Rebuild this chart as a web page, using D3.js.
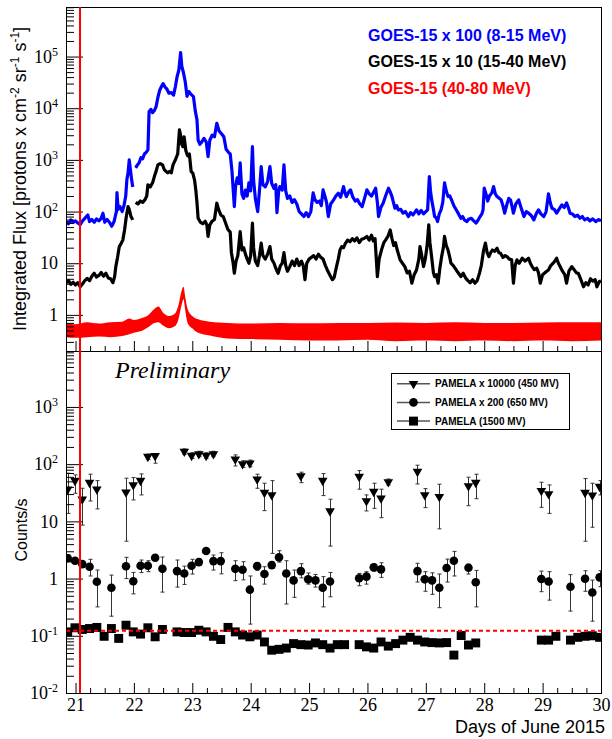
<!DOCTYPE html>
<html>
<head>
<meta charset="utf-8">
<script src="https://cdn.jsdelivr.net/npm/d3@7"></script>
<style>
  body { margin: 0; background: #fff; }
  svg { display: block; }
</style>
</head>
<body>
<div id="chart"></div>
<script>
// GOES-15 integrated flux as plotted (already scaled as in legend): [day of June, flux]
var goesBlue = [
  [20.84,64],[20.88,58],[20.92,69],[20.96,62],[21.00,66],[21.04,60],[21.08,56],[21.12,66],[21.16,74],[21.21,86],
  [21.24,64],[21.28,70],[21.32,62],[21.36,72],[21.40,66],[21.44,74],[21.47,93],[21.50,62],[21.54,70],[21.58,62],
  [21.62,52],[21.66,64],[21.70,100],[21.71,233],[21.73,110],[21.76,125],[21.80,100],[21.83,130],[21.86,200],[21.88,420],
  [21.90,560],[21.92,1000],[21.94,650],[21.96,420],[21.98,300],[22.00,null],[22.03,700],[22.06,800],[22.09,880],[22.12,1100],
  [22.15,1050],[22.18,1300],[22.21,1400],[22.24,1560],[22.26,8600],[22.29,9500],[22.32,8200],[22.35,9000],[22.38,10700],[22.41,16000],
  [22.44,22000],[22.47,26000],[22.50,30000],[22.53,26000],[22.56,24000],[22.60,19500],[22.64,20000],[22.68,18000],[22.71,26000],[22.74,41000],
  [22.77,55000],[22.80,119000],[22.82,65000],[22.85,48000],[22.88,32000],[22.91,17000],[22.94,21000],[22.97,19000],[23.02,16800],[23.05,9000],
  [23.08,6000],[23.10,2400],[23.13,2000],[23.16,2200],[23.20,2600],[23.24,2200],[23.27,1160],[23.30,2400],[23.34,3000],[23.38,2800],
  [23.42,5100],[23.46,3600],[23.50,3200],[23.54,2800],[23.58,1600],[23.62,1400],[23.65,1300],[23.68,600],[23.72,125],[23.74,300],
  [23.77,450],[23.80,350],[23.82,875],[23.85,220],[23.88,180],[23.91,260],[23.94,200],[23.97,360],[24.00,250],[24.03,1800],
  [24.05,400],[24.08,180],[24.12,100],[24.15,250],[24.18,741],[24.21,330],[24.25,300],[24.29,380],[24.33,741],[24.36,350],
  [24.40,280],[24.43,330],[24.45,95],[24.48,250],[24.50,304],[24.54,260],[24.57,800],[24.60,250],[24.63,180],[24.67,200],
  [24.71,150],[24.75,170],[24.79,140],[24.83,100],[24.87,90],[24.91,80],[24.95,95],[24.99,80],[25.03,100],[25.07,230],
  [25.10,170],[25.14,150],[25.18,160],[25.21,130],[25.24,263],[25.27,200],[25.30,150],[25.33,80],[25.37,140],[25.42,168],
  [25.46,200],[25.50,227],[25.54,190],[25.59,304],[25.62,220],[25.64,195],[25.68,240],[25.71,263],[25.75,190],[25.79,160],
  [25.83,170],[25.87,140],[25.91,125],[25.95,180],[25.99,263],[26.03,220],[26.07,200],[26.10,230],[26.14,283],[26.17,150],
  [26.19,80],[26.23,120],[26.27,147],[26.31,200],[26.36,283],[26.39,240],[26.42,195],[26.47,116],[26.50,130],[26.53,108],
  [26.57,110],[26.61,93],[26.65,100],[26.70,80],[26.74,95],[26.78,86],[26.82,100],[26.84,108],[26.88,90],[26.92,105],
  [26.96,90],[27.00,100],[27.03,108],[27.06,475],[27.08,250],[27.10,168],[27.13,110],[27.15,80],[27.18,75],[27.20,64],
  [27.23,90],[27.26,108],[27.29,150],[27.32,359],[27.35,250],[27.38,195],[27.41,200],[27.44,168],[27.48,130],[27.52,108],
  [27.56,90],[27.60,74],[27.63,80],[27.66,69],[27.70,64],[27.74,72],[27.78,74],[27.82,66],[27.86,60],[27.90,70],
  [27.93,80],[27.96,90],[27.98,108],[28.00,283],[28.03,220],[28.06,160],[28.09,200],[28.13,230],[28.16,304],[28.19,220],
  [28.22,195],[28.26,180],[28.29,168],[28.32,130],[28.35,93],[28.39,140],[28.42,180],[28.45,168],[28.48,120],[28.50,93],
  [28.54,140],[28.59,168],[28.63,120],[28.68,80],[28.72,100],[28.76,93],[28.80,85],[28.85,69],[28.89,90],[28.93,108],
  [28.97,90],[29.02,80],[29.06,100],[29.10,220],[29.13,150],[29.16,116],[29.20,110],[29.24,93],[29.28,110],[29.33,135],
  [29.37,120],[29.41,147],[29.44,120],[29.47,93],[29.51,90],[29.55,80],[29.60,85],[29.64,74],[29.68,80],[29.72,69],
  [29.77,74],[29.81,66],[29.86,72],[29.91,64],[29.96,70],[30.00,66]
];
var goesBlack = [
  [20.84,4.2],[20.88,4.6],[20.92,3.9],[20.96,4.3],[21.00,3.8],[21.04,4.2],[21.08,3.5],[21.12,4.0],[21.16,4.6],[21.20,5.1],
  [21.24,4.6],[21.28,5.6],[21.32,6.4],[21.36,5.4],[21.40,5.8],[21.44,6.6],[21.48,5.6],[21.52,6.4],[21.56,5.2],[21.60,5.0],
  [21.64,4.2],[21.67,5.5],[21.69,8.6],[21.72,13],[21.75,21],[21.78,24],[21.81,28],[21.84,44],[21.87,80],[21.90,125],
  [21.92,110],[21.95,80],[21.98,69],[22.00,null],[22.03,150],[22.07,140],[22.11,160],[22.15,150],[22.19,170],[22.22,200],
  [22.24,330],[22.28,300],[22.32,360],[22.35,475],[22.38,600],[22.41,800],[22.45,850],[22.49,800],[22.52,650],[22.55,600],
  [22.58,560],[22.61,600],[22.64,560],[22.67,800],[22.71,1000],[22.75,1300],[22.78,3800],[22.80,3000],[22.82,2000],[22.84,1800],
  [22.86,2800],[22.89,1500],[22.92,1200],[22.95,1300],[22.98,600],[23.01,550],[23.04,400],[23.06,263],[23.08,150],[23.10,74],
  [23.14,62],[23.18,58],[23.22,65],[23.25,55],[23.27,33],[23.30,55],[23.34,65],[23.38,70],[23.42,145],[23.45,110],
  [23.49,85],[23.53,80],[23.57,60],[23.61,45],[23.65,40],[23.67,16],[23.70,10],[23.72,6.4],[23.75,11],[23.78,14],
  [23.82,41],[23.85,18],[23.88,20],[23.91,15],[23.94,12],[23.97,10],[24.00,14],[24.03,60],[24.05,20],[24.08,11],
  [24.12,9],[24.15,14],[24.18,24.5],[24.21,14],[24.25,12],[24.29,15],[24.33,21],[24.36,12],[24.40,10],[24.43,8],
  [24.47,6.4],[24.51,9],[24.54,10],[24.57,16],[24.60,9],[24.63,7],[24.67,8.6],[24.71,11],[24.75,9],[24.79,12],
  [24.83,9],[24.87,11],[24.90,9],[24.93,4.8],[24.96,10],[25.00,12],[25.04,13],[25.08,14],[25.12,12],[25.16,15],
  [25.20,13],[25.24,12],[25.28,9],[25.31,7.5],[25.34,6.4],[25.37,5.5],[25.40,4.8],[25.43,5.3],[25.47,8.6],[25.50,12],
  [25.53,18],[25.56,21],[25.59,20],[25.62,24],[25.66,28],[25.70,26],[25.74,30],[25.78,27],[25.82,31],[25.86,25],
  [25.90,29],[25.94,30],[25.99,33],[26.03,28],[26.07,35],[26.10,27],[26.13,30],[26.17,5.5],[26.20,12],[26.24,18],
  [26.28,25],[26.31,28],[26.35,33],[26.39,44],[26.42,30],[26.45,22],[26.48,25],[26.51,18],[26.56,11.6],[26.60,10],
  [26.64,8.6],[26.68,6.5],[26.72,7],[26.76,4.1],[26.80,6],[26.84,7.4],[26.88,12],[26.90,21],[26.93,14],[26.96,8.6],
  [26.99,12],[27.02,21],[27.05,55],[27.07,25],[27.10,13],[27.13,6.5],[27.15,5.5],[27.18,6],[27.21,4.1],[27.24,8],
  [27.27,13.4],[27.30,20],[27.32,33],[27.35,22],[27.38,18],[27.41,13],[27.43,10],[27.47,9],[27.52,7.4],[27.56,6.4],
  [27.60,5.5],[27.64,6.4],[27.68,5.2],[27.72,4.6],[27.76,4.2],[27.80,4.8],[27.84,4.1],[27.88,4.6],[27.92,6.5],[27.95,9],
  [27.99,18],[28.02,24.5],[28.05,16],[28.08,13.4],[28.11,16],[28.14,18],[28.18,17],[28.22,19.5],[28.25,16],[28.28,15.6],
  [28.32,13],[28.36,14],[28.39,13.4],[28.43,12],[28.47,11.6],[28.50,4.1],[28.53,9],[28.56,11.6],[28.60,10],[28.65,12.5],
  [28.70,11],[28.76,12.5],[28.79,10],[28.82,8.6],[28.86,7.5],[28.90,8],[28.93,6.5],[28.96,4.1],[29.00,6],[29.03,6.4],
  [29.07,7],[29.10,7.4],[29.14,9],[29.18,10],[29.21,11],[29.24,12.5],[29.27,10],[29.30,8.6],[29.34,7],[29.38,6],
  [29.41,4.1],[29.45,7],[29.50,8.6],[29.54,7.5],[29.58,6.5],[29.61,6.4],[29.65,5],[29.70,3.5],[29.74,4.2],[29.78,3.8],
  [29.82,5],[29.86,4.5],[29.90,4.8],[29.93,3.5],[29.97,4.4],[30.00,4.5]
];
// 40-80 MeV channel is a noisy band: [day, lower edge, upper edge]
var goesRed = [
  [20.84,0.37,0.68],[21.00,0.36,0.66],[21.20,0.37,0.72],[21.40,0.38,0.68],[21.60,0.37,0.72],[21.80,0.39,0.74],
  [21.92,0.42,0.85],[22.00,0.45,0.80],[22.15,0.50,0.88],[22.25,0.58,1.0],[22.35,0.70,1.3],[22.42,0.72,1.45],
  [22.50,0.62,1.1],[22.60,0.55,0.95],[22.70,0.60,1.05],[22.76,0.80,1.5],[22.82,1.6,3.0],[22.85,2.0,3.5],
  [22.88,1.2,2.2],[22.92,0.70,1.3],[23.00,0.55,0.95],[23.10,0.45,0.82],[23.30,0.40,0.74],[23.60,0.35,0.70],
  [24.00,0.34,0.68],[24.50,0.33,0.70],[25.00,0.32,0.69],[25.50,0.32,0.70],[26.00,0.33,0.70],[26.50,0.31,0.71],
  [27.00,0.32,0.70],[27.50,0.31,0.72],[28.00,0.32,0.70],[28.50,0.31,0.70],[29.00,0.32,0.71],[29.50,0.31,0.72],
  [30.00,0.32,0.72]
];

// PAMELA count rates, 3-hour bins counted from pamT0
var pamT0 = 20.866, pamBinWidth = 0.1248;

var triBin = [0,1,2,3,4,8,9,10,11,12,16,17,18,19,20,23,24,25,26,27,28,32,35,36,40,41,42,43,44,48,49,51,55,56,65,66,71,72,73];
var triVal = [36.5,51.5,24.4,47.5,36.5,32.3,43.3,51.5,135.6,139.5,166,141,151,141,151,122,101,104,54.5,31.8,29,62.3,51.5,15.1,60.6,22.7,33.1,25.4,48.9,74.1,29,27,41.6,47.5,34.4,30.2,31.8,28.6,40.5];
var triLo  = [13.8,31,8.6,22.7,16.5,4.5,23.7,29,120,104,148,126,135,126,135,93,88,90,37.9,15.4,2.76,47.5,28.2,3.7,36.5,15.2,16.9,11.6,43,45.1,17.4,7.4,18.8,24.9,17.6,13.8,4.5,7.9,29];
var triHi  = [69.5,64.9,37.9,66.7,51.5,56.8,58.2,67.5,150,152,185,158,168,158,168,145,115,118,66.7,46.4,51.5,72.3,68.4,24.4,77.1,29,46.4,36.5,55,95.9,37.3,44.6,59.1,66.7,48.3,43.3,55.9,46.4,51.5];

var circBin = [0,1,2,3,4,6,8,9,10,11,12,13,15,16,17,18,19,20,21,23,24,25,26,27,28,29,30,31,32,33,34,35,36,40,41,42,43,48,49,50,51,52,53,55,56,65,66,69,71,72,73];
var circVal = [2.26,2.05,1.79,1.61,0.88,0.69,1.64,0.90,1.68,1.68,2.31,1.48,1.35,1.23,1.68,1.94,3.03,2.02,2.02,1.48,1.43,0.64,1.65,1.20,1.72,2.35,1.23,0.93,1.35,0.97,0.93,0.69,0.89,1.01,1.08,1.57,1.45,1.35,0.97,0.93,0.69,1.53,2.05,1.55,0.86,0.98,0.89,0.72,0.99,0.57,1.05];
var circLo  = [2.0,1.8,1.6,1.11,0.32,0.22,1.0,0.54,1.28,1.32,2.05,0.58,0.71,0.79,1.20,1.7,2.75,1.41,1.21,0.92,0.95,0.16,1.4,0.80,1.5,1.94,0.36,0.47,1.03,0.80,0.71,0.32,0.48,0.75,0.80,1.35,1.05,0.87,0.60,0.53,0.31,0.87,1.11,1.20,0.32,0.59,0.42,0.27,0.60,0.18,0.72];
var circHi  = [2.6,2.3,2.0,2.17,1.41,1.15,2.35,1.28,2.11,2.05,2.6,2.38,2.11,1.65,2.17,2.2,3.3,2.58,2.83,2.05,1.97,1.11,1.9,1.61,1.95,3.07,2.05,1.41,1.82,1.25,1.18,1.08,1.28,1.23,1.32,1.8,1.89,1.85,1.32,1.26,1.20,2.19,2.99,1.79,1.39,1.35,1.32,1.17,1.37,0.94,1.37];

var sqBin = [0,1,2,3,4,5,6,7,8,9,10,11,12,13,15,16,17,18,19,20,21,22,23,24,25,26,27,28,29,30,31,32,33,34,35,36,37,38,40,41,42,43,44,45,46,47,48,49,50,51,52,53,54,55,56,65,66,67,69,70,71,72,73];
var sqVal = [0.117,0.138,0.129,0.134,0.140,0.098,0.134,0.090,0.153,0.117,0.107,0.138,0.096,0.129,0.117,0.114,0.114,0.125,0.117,0.098,0.086,0.140,0.117,0.103,0.096,0.103,0.078,0.056,0.058,0.061,0.073,0.070,0.069,0.075,0.070,0.061,0.070,0.070,0.070,0.064,0.061,0.078,0.066,0.073,0.084,0.094,0.084,0.078,0.076,0.075,0.076,0.046,0.101,0.069,0.075,0.084,0.084,0.098,0.084,0.094,0.098,0.100,0.094];

var refLevel = 0.122;   // dashed red level in lower pad
var eventDay = 21.077;  // red vertical marker

var dayTicks = [21,22,23,24,25,26,27,28,29,30];
var topTicks = [1,10,100,1000,10000,100000];
var topTickLabels = [["1",""],["10",""],["10","2"],["10","3"],["10","4"],["10","5"]];
var botTicks = [0.01,0.1,1,10,100,1000];
var botTickLabels = [["10","-2"],["10","-1"],["1",""],["10",""],["10","2"],["10","3"]];

var goesLegend = [
  {text: "GOES-15 x 100 (8-15 MeV)", color: "#0000ff"},
  {text: "GOES-15 x 10 (15-40 MeV)", color: "#000000"},
  {text: "GOES-15 (40-80 MeV)", color: "#ff0000"}
];
var pamLegend = [
  {text: "PAMELA x 10000 (450 MV)", shape: "tri"},
  {text: "PAMELA x 200 (650 MV)", shape: "circ"},
  {text: "PAMELA (1500 MV)", shape: "sq"}
];

var L = 66, R = 601, T = 7, M = 351, B = 693;

var svg = d3.select("#chart").append("svg").attr("width", 612).attr("height", 739);

var x = d3.scaleLinear().domain([20.837, 30.0]).range([L, R]);
var yTop = d3.scaleLog().domain([0.2, 9.1e5]).range([M, T]);
var yBot = d3.scaleLog().domain([0.01, 9500]).range([B, M]);

var defs = svg.append("defs");
defs.append("clipPath").attr("id", "clipTop").append("rect").attr("x", L).attr("y", T).attr("width", R - L).attr("height", M - T);
defs.append("clipPath").attr("id", "clipBot").append("rect").attr("x", L).attr("y", M).attr("width", R - L).attr("height", B - M);

// ---- upper pad: GOES
var topPad = svg.append("g").attr("clip-path", "url(#clipTop)");

var band = d3.area().x(d => x(d[0])).y0(d => yTop(d[1])).y1(d => yTop(d[2])).curve(d3.curveMonotoneX);
topPad.append("path").datum(goesRed).attr("fill", "#ff0000").attr("d", band);

var goesLine = d3.line().defined(d => d[1] != null).x(d => x(d[0])).y(d => yTop(d[1]));
topPad.append("path").datum(goesBlack).attr("fill", "none").attr("stroke", "#000").attr("stroke-width", 3.2).attr("stroke-linejoin", "round").attr("d", goesLine);
topPad.append("path").datum(goesBlue).attr("fill", "none").attr("stroke", "#0000ff").attr("stroke-width", 3.2).attr("stroke-linejoin", "round").attr("d", goesLine);

// ---- lower pad: PAMELA
function pamSeries(bins, vals, lo, hi) {
  return bins.map((b, i) => ({t: pamT0 + b * pamBinWidth, v: vals[i], lo: lo ? lo[i] : null, hi: hi ? hi[i] : null}));
}
var triData = pamSeries(triBin, triVal, triLo, triHi);
var circData = pamSeries(circBin, circVal, circLo, circHi);
var sqData = pamSeries(sqBin, sqVal);

var symTri = d3.symbol().type(d3.symbolTriangle).size(40);
var symCirc = d3.symbol().type(d3.symbolCircle).size(58);
var symSq = d3.symbol().type(d3.symbolSquare).size(80);

var botPad = svg.append("g").attr("clip-path", "url(#clipBot)");

function drawErrors(data) {
  var g = botPad.append("g").attr("stroke", "#333").attr("stroke-width", 1);
  data.forEach(d => {
    var cx = Math.round(x(d.t)) + 0.5;
    g.append("line").attr("x1", cx).attr("x2", cx).attr("y1", yBot(d.lo)).attr("y2", yBot(d.hi));
    g.append("line").attr("x1", cx - 2).attr("x2", cx + 2).attr("y1", yBot(d.lo)).attr("y2", yBot(d.lo));
    g.append("line").attr("x1", cx - 2).attr("x2", cx + 2).attr("y1", yBot(d.hi)).attr("y2", yBot(d.hi));
  });
}
drawErrors(triData);
drawErrors(circData);

function drawMarkers(data, sym, rot) {
  botPad.append("g").selectAll("path").data(data).enter().append("path")
    .attr("d", sym)
    .attr("transform", d => "translate(" + x(d.t) + "," + yBot(d.v) + ")" + (rot ? " rotate(180)" : ""))
    .attr("fill", "#000");
}
drawMarkers(triData, symTri, true);
drawMarkers(circData, symCirc, false);
drawMarkers(sqData, symSq, false);

botPad.append("line").attr("x1", L).attr("x2", R).attr("y1", yBot(refLevel)).attr("y2", yBot(refLevel))
  .attr("stroke", "#ff0000").attr("stroke-width", 2).attr("stroke-dasharray", "4,3");

// ---- axes
function logMinors(domain) {
  var out = [];
  var e0 = Math.floor(Math.log10(domain[0])), e1 = Math.ceil(Math.log10(domain[1]));
  for (var e = e0; e <= e1; e++) for (var m = 2; m <= 9; m++) {
    var v = m * Math.pow(10, e);
    if (v >= domain[0] && v <= domain[1]) out.push(v);
  }
  return out;
}
function styleAxis(g) {
  g.select(".domain").remove();
  g.attr("font-family", "'Liberation Serif', 'Times New Roman', serif").attr("font-size", 18);
}
function yAxis(scale, ticks, labels) {
  svg.append("g").attr("transform", "translate(" + L + ",0)")
    .call(d3.axisLeft(scale).tickValues(logMinors(scale.domain())).tickSize(-8).tickFormat(""))
    .call(styleAxis);
  var g = svg.append("g").attr("transform", "translate(" + L + ",0)")
    .call(d3.axisLeft(scale).tickValues(ticks).tickSize(-17).tickPadding(8))
    .call(styleAxis);
  g.selectAll(".tick text").each(function(d) {
    var lab = labels[ticks.indexOf(d)];
    var t = d3.select(this).text(null);
    t.append("tspan").text(lab[0]);
    if (lab[1]) t.append("tspan").attr("dy", -7).attr("font-size", 12).text(lab[1]);
  });
}
yAxis(yTop, topTicks, topTickLabels);
yAxis(yBot, botTicks, botTickLabels);

var dayMinors = d3.range(21.25, 30, 0.25).filter(d => d % 1 !== 0);
[M, B].forEach(function(yy) {
  svg.append("g").attr("transform", "translate(0," + yy + ")")
    .call(d3.axisBottom(x).tickValues(dayMinors).tickSize(-5).tickFormat(""))
    .call(styleAxis);
  svg.append("g").attr("transform", "translate(0," + yy + ")")
    .call(d3.axisBottom(x).tickValues(dayTicks).tickSize(-10).tickPadding(5).tickFormat(yy === B ? d3.format("d") : ""))
    .call(styleAxis);
});

// frame
svg.append("rect").attr("x", L + 0.5).attr("y", T + 0.5).attr("width", R - L).attr("height", B - T)
  .attr("fill", "none").attr("stroke", "#000").attr("stroke-width", 1);
svg.append("line").attr("x1", L).attr("x2", R).attr("y1", M + 0.5).attr("y2", M + 0.5).attr("stroke", "#000");

// event marker
svg.append("line").attr("x1", x(eventDay)).attr("x2", x(eventDay)).attr("y1", T).attr("y2", B)
  .attr("stroke", "#ff0000").attr("stroke-width", 2);

// ---- titles
var sans = "'Liberation Sans', Arial, Helvetica, sans-serif";
var yt = svg.append("text").attr("transform", "translate(26,179) rotate(-90)")
  .attr("text-anchor", "middle").attr("font-family", sans).attr("font-size", 18);
yt.append("tspan").text("Integrated Flux [protons x cm");
yt.append("tspan").attr("dy", -7).attr("font-size", 12).text("-2");
yt.append("tspan").attr("dy", 7).text(" sr");
yt.append("tspan").attr("dy", -7).attr("font-size", 12).text("-1");
yt.append("tspan").attr("dy", 7).text(" s");
yt.append("tspan").attr("dy", -7).attr("font-size", 12).text("-1");
yt.append("tspan").attr("dy", 7).text("]");

svg.append("text").attr("transform", "translate(26.5,530) rotate(-90)")
  .attr("text-anchor", "middle").attr("font-family", sans).attr("font-size", 16).text("Counts/s");

svg.append("text").attr("x", 605).attr("y", 733).attr("text-anchor", "end")
  .attr("font-family", sans).attr("font-size", 18).text("Days of June 2015");

svg.append("text").attr("x", 115).attr("y", 378)
  .attr("font-family", "'Liberation Serif', 'Times New Roman', serif").attr("font-style", "italic")
  .attr("font-size", 24).text("Preliminary");

// GOES legend
svg.selectAll(".goesLeg").data(goesLegend).enter().append("text")
  .attr("x", 368).attr("y", (d, i) => 40.5 + i * 26.5)
  .attr("font-family", sans).attr("font-weight", "bold").attr("font-size", 16)
  .attr("fill", d => d.color).text(d => d.text);

// PAMELA legend
var leg = svg.append("g");
leg.append("rect").attr("x", 391.5).attr("y", 373.5).attr("width", 178).attr("height", 56)
  .attr("fill", "#fff").attr("stroke", "#000").attr("stroke-width", 1);
var shapes = {tri: [symTri, true], circ: [symCirc, false], sq: [symSq, false]};
pamLegend.forEach(function(d, i) {
  var yy = 383.7 + i * 18.7;
  leg.append("line").attr("x1", 397).attr("x2", 430).attr("y1", yy).attr("y2", yy).attr("stroke", "#555").attr("stroke-width", 1.5);
  leg.append("path").attr("d", shapes[d.shape][0]).attr("fill", "#000")
    .attr("transform", "translate(413.5," + yy + ")" + (shapes[d.shape][1] ? " rotate(180)" : ""));
  leg.append("text").attr("x", 435).attr("y", yy).attr("dy", "0.35em")
    .attr("font-family", sans).attr("font-weight", "bold").attr("font-size", 10).text(d.text);
});
</script>
</body>
</html>
